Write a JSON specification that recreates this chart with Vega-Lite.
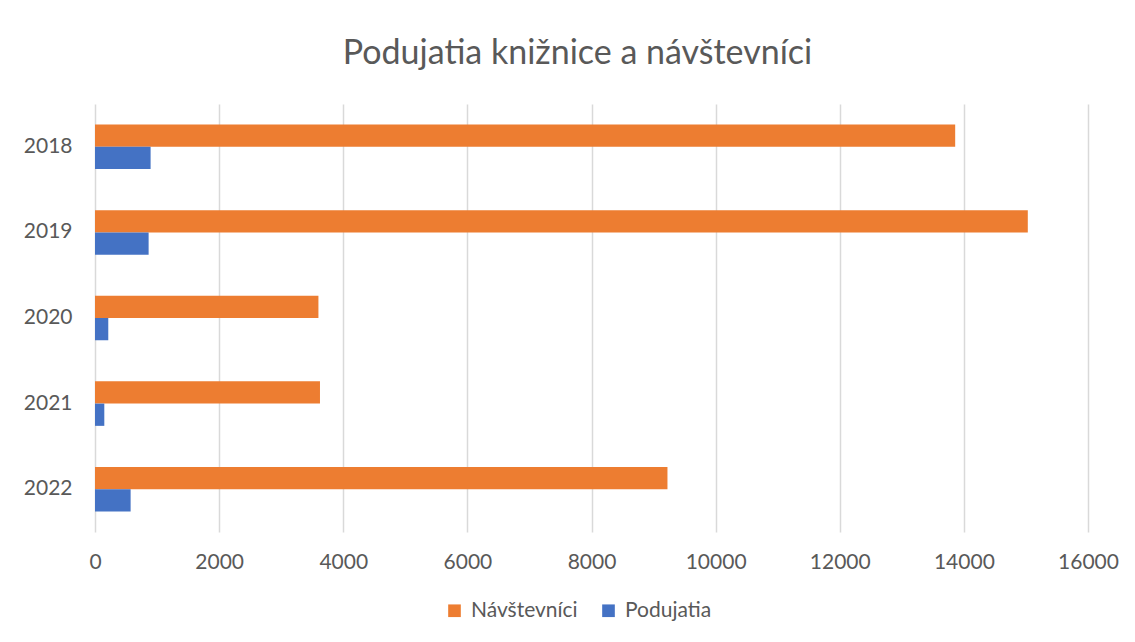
{
  "$schema": "https://vega.github.io/schema/vega-lite/v6.json",
  "width": 993,
  "height": 428,
  "autosize": "none",
  "padding": {"left": 95, "top": 104, "right": 47, "bottom": 110},
  "background": "white",
  "title": {
    "text": "Podujatia knižnice a návštevníci",
    "font": "Lato",
    "fontSize": 34,
    "fontWeight": "normal",
    "color": "#595959",
    "anchor": "middle",
    "dx": -14,
    "offset": 33
  },
  "data": {
    "values": [
      {"rok": "2018", "seria": "Návštevníci", "hodnota": 13860},
      {"rok": "2018", "seria": "Podujatia", "hodnota": 896},
      {"rok": "2019", "seria": "Návštevníci", "hodnota": 15030},
      {"rok": "2019", "seria": "Podujatia", "hodnota": 864},
      {"rok": "2020", "seria": "Návštevníci", "hodnota": 3600},
      {"rok": "2020", "seria": "Podujatia", "hodnota": 214},
      {"rok": "2021", "seria": "Návštevníci", "hodnota": 3625},
      {"rok": "2021", "seria": "Podujatia", "hodnota": 150},
      {"rok": "2022", "seria": "Návštevníci", "hodnota": 9224},
      {"rok": "2022", "seria": "Podujatia", "hodnota": 574}
    ]
  },
  "mark": {"type": "bar"},
  "encoding": {
    "y": {
      "field": "rok",
      "type": "nominal",
      "sort": ["2018", "2019", "2020", "2021", "2022"],
      "scale": {"paddingInner": 0.48, "paddingOuter": 0.24},
      "axis": {
        "title": null,
        "ticks": false,
        "domain": false,
        "labelPadding": 23,
        "labelFont": "Lato",
        "labelFontSize": 21,
        "labelColor": "#595959"
      }
    },
    "yOffset": {
      "field": "seria",
      "type": "nominal",
      "sort": ["Návštevníci", "Podujatia"],
      "scale": {"paddingInner": 0, "paddingOuter": 0}
    },
    "x": {
      "field": "hodnota",
      "type": "quantitative",
      "scale": {"domain": [0, 16000], "nice": false},
      "axis": {
        "title": null,
        "values": [0, 2000, 4000, 6000, 8000, 10000, 12000, 14000, 16000],
        "format": "d",
        "ticks": false,
        "domain": false,
        "grid": true,
        "gridColor": "#d9d9d9",
        "gridWidth": 1.5,
        "labelPadding": 19,
        "labelFont": "Lato",
        "labelFontSize": 21,
        "labelColor": "#595959",
        "labelFlush": false
      }
    },
    "color": {
      "field": "seria",
      "type": "nominal",
      "scale": {"domain": ["Návštevníci", "Podujatia"], "range": ["#ED7D31", "#4472C4"]},
      "legend": {
        "title": null,
        "orient": "none",
        "direction": "horizontal",
        "legendX": 349,
        "legendY": 496,
        "symbolType": "square",
        "symbolSize": 160,
        "symbolStrokeWidth": 0,
        "labelFont": "Lato",
        "labelFontSize": 21,
        "labelColor": "#595959",
        "labelOffset": 6,
        "columnPadding": 20
      }
    }
  },
  "config": {
    "view": {"stroke": null}
  }
}
